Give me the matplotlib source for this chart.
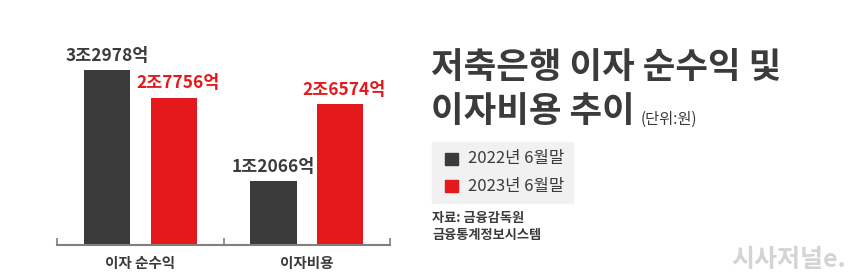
import matplotlib.pyplot as plt
from matplotlib.patches import Rectangle

plt.rcParams['font.family'] = ['Noto Sans CJK KR', 'DejaVu Sans']

categories = ['이자 순수익', '이자비용']
series_names = ['2022년 6월말', '2023년 6월말']
values_2022 = [32978, 12066]
values_2023 = [27756, 26574]
labels_2022 = ['3조2978억', '1조2066억']
labels_2023 = ['2조7756억', '2조6574억']

DARK = '#3b3b3b'
RED = '#e5191b'


def main():
    fig = plt.figure(figsize=(8.6, 2.78), dpi=100)
    ax = fig.add_axes([0.0665, 0.1187, 0.387, 0.81])

    centers = [0.5, 1.5]
    width = 0.277
    off = 0.2
    xs1 = [c - off for c in centers]
    xs2 = [c + off for c in centers]
    ax.bar(xs1, values_2022, width, color=DARK)
    ax.bar(xs2, values_2023, width, color=RED)

    for x, v, s in zip(xs1, values_2022, labels_2022):
        ax.annotate(s, (x, v), xytext=(0, 4), textcoords='offset points',
                    ha='center', va='bottom', fontsize=12.5, fontweight='bold', color=DARK)
    for x, v, s in zip(xs2, values_2023, labels_2023):
        ax.annotate(s, (x, v), xytext=(3, 4), textcoords='offset points',
                    ha='center', va='bottom', fontsize=12.5, fontweight='bold', color=RED)

    ax.set_xlim(0, 2)
    ax.set_ylim(0, 42500)
    for side in ['top', 'left', 'right']:
        ax.spines[side].set_visible(False)
    ax.spines['bottom'].set_color('#808080')
    ax.spines['bottom'].set_linewidth(1.5)
    ax.set_yticks([])
    ax.set_xticks([0, 1, 2])
    ax.set_xticklabels([])
    ax.tick_params(axis='x', which='major', direction='in', length=5, width=1.2, color='#808080')
    ax.set_xticks(centers, minor=True)
    ax.set_xticklabels(categories, minor=True, fontsize=10.5, fontweight='bold', color=DARK)
    ax.tick_params(axis='x', which='minor', length=0, pad=7)

    # title block
    fig.text(431 / 860, 1 - 67 / 278, '저축은행 이자 순수익 및', fontsize=25.5, fontweight='bold',
             color=DARK, ha='left', va='center')
    fig.text(431 / 860, 1 - 112 / 278, '이자비용 추이', fontsize=25.5, fontweight='bold',
             color=DARK, ha='left', va='center')
    fig.text(641 / 860, 1 - 119 / 278, '(단위:원)', fontsize=11, color=DARK, ha='left', va='center')

    # legend box
    fig.patches.append(Rectangle((432 / 860, 1 - 203 / 278), 141 / 860, 61 / 278,
                                 transform=fig.transFigure, color='#f1f1f1', zorder=0))
    for y, name, c in zip([159, 186], series_names, [DARK, RED]):
        fig.patches.append(Rectangle((445 / 860, 1 - (y + 6) / 278), 13 / 860, 12 / 278,
                                     transform=fig.transFigure, color=c))
        fig.text(468 / 860, 1 - y / 278, name, fontsize=12, color=DARK, ha='left', va='center')

    fig.text(432 / 860, 1 - 218 / 278, '자료: 금융감독원', fontsize=9.5, fontweight='bold',
             color=DARK, ha='left', va='center')
    fig.text(432 / 860, 1 - 235 / 278, '금융통계정보시스템', fontsize=9.5, fontweight='bold',
             color=DARK, ha='left', va='center')

    fig.text(846 / 860, 1 - 260 / 278, '시사저널e.', fontsize=18, fontweight='heavy',
             color='#d4d4d4', ha='right', va='center')

    fig.savefig('out.png', dpi=100)


if __name__ == '__main__':
    main()
